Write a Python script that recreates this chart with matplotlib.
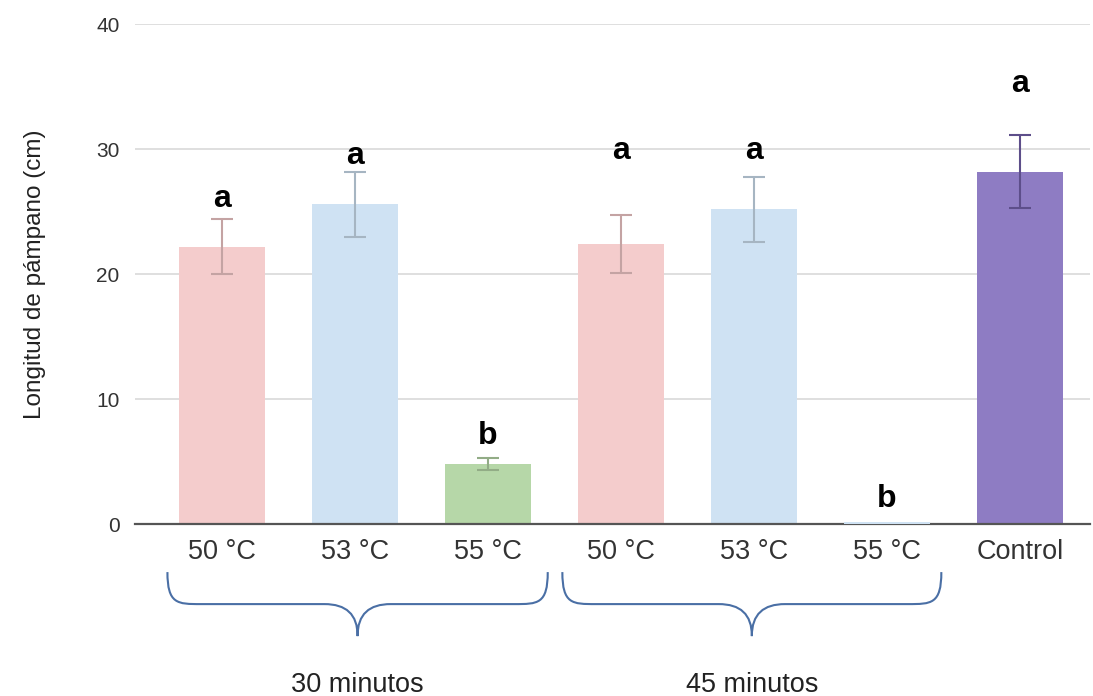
import matplotlib.pyplot as plt
import numpy as np
from matplotlib.path import Path
from matplotlib.patches import PathPatch
import matplotlib.transforms as mtransforms

plt.rcParams['font.family'] = ['Liberation Sans', 'DejaVu Sans']

labels = ["50 °C", "53 °C", "55 °C", "50 °C", "53 °C", "55 °C", "Control"]
means = [22.2, 25.6, 4.8, 22.4, 25.2, 0.15, 28.2]
errors = [2.2, 2.6, 0.5, 2.3, 2.6, 0.0, 2.9]
letters = ["a", "a", "b", "a", "a", "b", "a"]
letter_y = [25.4, 28.8, 6.4, 29.2, 29.2, 1.4, 34.6]
colors = ["#f4cccc", "#cfe2f3", "#b6d7a8", "#f4cccc", "#cfe2f3", "#cfe2f3", "#8e7cc3"]
err_colors = ["#c4a3a3", "#a6b5c2", "#92ac86", "#c4a3a3", "#a6b5c2", "#a6b5c2", "#5d4e8a"]
groups = ["30 minutos", "45 minutos"]
group_span = [(-0.41, 2.45), (2.56, 5.41)]

fig = plt.figure(figsize=(10.93, 6.96), dpi=100)
ax = fig.add_axes([0.1235, 0.247, 0.874, 0.7185])

x = np.arange(len(means))
bars = ax.bar(x, means, width=0.65, color=colors, zorder=2)
bars[5].set_zorder(5)  # the near-zero bar shows over the axis line
for i in range(len(means)):
    if errors[i] > 0:
        ax.errorbar(x[i], means[i], yerr=errors[i], fmt="none", ecolor=err_colors[i],
                    elinewidth=1.5, capsize=8, capthick=1.5, zorder=3)
    ax.text(x[i], letter_y[i], letters[i], ha="center", va="baseline",
            fontsize=23, fontweight="bold", color="black")

ax.set_xlim(-0.654, 6.53)
ax.set_ylim(0, 40)
ax.set_yticks([0, 10, 20, 30, 40])
ax.yaxis.grid(True, color="#d9d9d9", linewidth=1.2, zorder=0)
ax.set_axisbelow(True)
for s in ["top", "right", "left"]:
    ax.spines[s].set_visible(False)
ax.spines["bottom"].set_color("#555555")
ax.spines["bottom"].set_linewidth(1.6)
ax.spines["bottom"].set_zorder(4)
ax.tick_params(axis="y", length=0, labelsize=15, colors="#333333", pad=11)
ax.tick_params(axis="x", length=0, labelsize=19.5, colors="#333333", pad=11)
ax.set_xticks(x)
ax.set_xticklabels(labels)
ax.set_ylabel("Longitud de pámpano (cm)", fontsize=17.5, color="#222222", labelpad=36)

# braces under the groups
trans = mtransforms.blended_transform_factory(ax.transData, ax.transAxes)
y_top, y_mid, y_bot = -0.096, -0.16, -0.224
for (x0, x1), name in zip(group_span, groups):
    xc = (x0 + x1) / 2
    r = 0.25
    verts = [(x0, y_top), (x0, y_mid), (x0 + r * 0.3, y_mid), (x0 + r, y_mid),
             (xc - r, y_mid),
             (xc - r * 0.35, y_mid), (xc, y_mid - 0.02), (xc, y_bot),
             (xc, y_mid - 0.02), (xc + r * 0.35, y_mid), (xc + r, y_mid),
             (x1 - r, y_mid),
             (x1 - r * 0.3, y_mid), (x1, y_mid), (x1, y_top)]
    codes = [Path.MOVETO, Path.CURVE4, Path.CURVE4, Path.CURVE4,
             Path.LINETO,
             Path.CURVE4, Path.CURVE4, Path.CURVE4,
             Path.CURVE4, Path.CURVE4, Path.CURVE4,
             Path.LINETO,
             Path.CURVE4, Path.CURVE4, Path.CURVE4]
    patch = PathPatch(Path(verts, codes), transform=trans, facecolor="none",
                      edgecolor="#4a6fa5", linewidth=1.5, clip_on=False)
    ax.add_patch(patch)
    ax.text(xc, -0.322, name, transform=trans, ha="center", va="center",
            fontsize=19.5, color="#222222")

fig.savefig("out.png", dpi=100)
